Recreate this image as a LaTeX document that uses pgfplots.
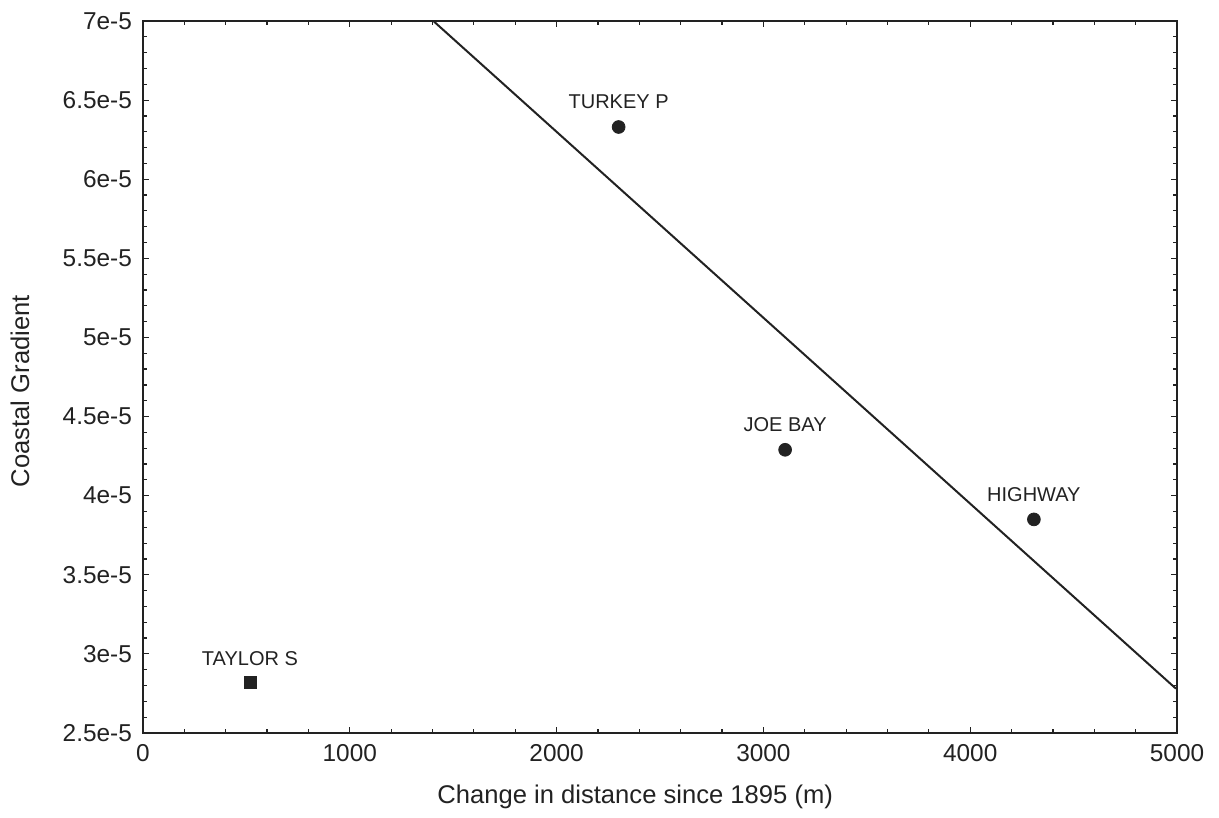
\documentclass[border=0pt]{standalone}
\usepackage{fontspec}
\setmainfont{Liberation Sans}
\usepackage{pgfplots}
\pgfplotsset{compat=1.18}
\definecolor{ink}{HTML}{222222}
\begin{document}
\begin{tikzpicture}
\begin{axis}[
  scale only axis,
  width=517pt, height=356pt,
  xmin=0, xmax=5000, ymin=2.5e-5, ymax=7e-5,
  scaled y ticks=false, scaled x ticks=false,
  xtick={0,1000,2000,3000,4000,5000},
  xticklabels={0,1000,2000,3000,4000,5000},
  ytick={2.5e-5,3e-5,3.5e-5,4e-5,4.5e-5,5e-5,5.5e-5,6e-5,6.5e-5,7e-5},
  yticklabels={2.5e-5,3e-5,3.5e-5,4e-5,4.5e-5,5e-5,5.5e-5,6e-5,6.5e-5,7e-5},
  minor x tick num=4, minor y tick num=4,
  tick align=inside,
  major tick length=3pt, minor tick length=2pt,
  axis line style={ink, line width=1pt},
  every tick/.style={ink, line width=0.6pt},
  /pgf/number format/assume math mode=true,
  ticklabel style={font=\fontsize{12.2}{14}\selectfont, text=ink},
  xticklabel style={yshift=-2pt},
  yticklabel style={xshift=-2pt},
  xlabel={Change in distance since 1895 (m)},
  ylabel={Coastal Gradient},
  label style={font=\fontsize{12.8}{15}\selectfont, text=ink},
  xlabel style={at={(axis description cs:0.476,0)}, anchor=center, yshift=-32pt},
  ylabel style={at={(axis description cs:-0.119,0.48)}, anchor=center},
  clip=false,
]
\addplot[ink, line width=1pt] coordinates {(1404,7e-5) (4995,2.78e-5)};
\addplot[only marks, mark=*, mark size=3.2pt, mark options={fill=ink, draw=ink},
  nodes near coords, point meta=explicit symbolic,
  every node near coord/.style={font=\fontsize{10}{11}\selectfont, text=ink, anchor=center, yshift=12.5pt}]
  coordinates {
    (2300,6.33e-5) [TURKEY P]
    (3105,4.29e-5) [JOE BAY]
    (4308,3.85e-5) [HIGHWAY]
  };
\addplot[only marks, mark=square*, mark size=3pt, mark options={fill=ink, draw=ink},
  nodes near coords, point meta=explicit symbolic,
  every node near coord/.style={font=\fontsize{10}{11}\selectfont, text=ink, anchor=center, yshift=12pt}]
  coordinates {
    (517,2.82e-5) [TAYLOR S]
  };
\end{axis}
\path ([xshift=-71.5pt,yshift=-42.5pt]current axis.south west) rectangle ([xshift=21pt,yshift=10.5pt]current axis.north east);
\end{tikzpicture}
\end{document}
